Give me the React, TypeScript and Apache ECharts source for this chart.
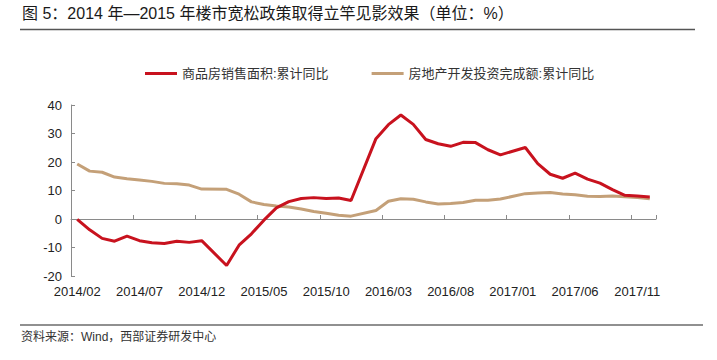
import React, { useEffect, useRef } from "react";
import * as echarts from "echarts";

const categories: string[] = [
  "2014/02", "2014/03", "2014/04", "2014/05", "2014/06", "2014/07", "2014/08", "2014/09", "2014/10", "2014/11", "2014/12",
  "2015/01", "2015/02", "2015/03", "2015/04", "2015/05", "2015/06", "2015/07", "2015/08", "2015/09", "2015/10", "2015/11", "2015/12",
  "2016/01", "2016/02", "2016/03", "2016/04", "2016/05", "2016/06", "2016/07", "2016/08", "2016/09", "2016/10", "2016/11", "2016/12",
  "2017/01", "2017/02", "2017/03", "2017/04", "2017/05", "2017/06", "2017/07", "2017/08", "2017/09", "2017/10", "2017/11", "2017/12",
];

const salesArea: (number | null)[] = [
  -0.1, -3.8, -6.8, -7.8, -6.0, -7.6, -8.3, -8.6, -7.8, -8.2, -7.6,
  null, -16.3, -9.2, -5.2, -0.4, 3.9, 6.1, 7.2, 7.5, 7.2, 7.4, 6.5,
  null, 28.2, 33.1, 36.5, 33.2, 27.9, 26.4, 25.5, 26.9, 26.8, 24.3, 22.5,
  null, 25.1, 19.4, 15.7, 14.3, 16.1, 14.0, 12.6, 10.3, 8.3, 8.1, 7.7,
];

const investment: (number | null)[] = [
  19.3, 16.8, 16.4, 14.7, 14.1, 13.7, 13.2, 12.5, 12.4, 11.9, 10.5,
  null, 10.4, 8.7, 6.0, 5.1, 4.6, 4.2, 3.5, 2.6, 2.0, 1.3, 1.0,
  null, 3.0, 6.2, 7.1, 6.9, 6.0, 5.3, 5.4, 5.8, 6.6, 6.6, 7.0,
  null, 8.9, 9.1, 9.3, 8.8, 8.5, 8.0, 7.9, 8.1, 7.8, 7.5, 7.1,
];

const seriesNames: string[] = ["商品房销售面积:累计同比", "房地产开发投资完成额:累计同比"];
const titleText = "图 5：2014 年—2015 年楼市宽松政策取得立竿见影效果（单位：%）";
const sourceText = "资料来源：Wind，西部证券研发中心";

const FONT = "'Liberation Sans', 'Noto Sans CJK SC', sans-serif";

export default function App() {
  const ref = useRef<HTMLDivElement>(null);
  useEffect(() => {
    if (!ref.current) return;
    const chart = echarts.init(ref.current, null, { renderer: "svg" });
    chart.setOption({
      animation: false,
      backgroundColor: "#ffffff",
      textStyle: { fontFamily: FONT },
      grid: { left: 71, right: 61, top: 105, bottom: 84, containLabel: false },
      legend: {
        left: 140,
        top: 62,
        itemWidth: 32,
        itemHeight: 3,
        itemGap: 43,
        icon: "rect",
        textStyle: { fontSize: 13, color: "#333", fontFamily: FONT },
        data: seriesNames,
      },
      xAxis: {
        type: "category",
        data: categories,
        boundaryGap: true,
        axisLine: { onZero: true, lineStyle: { color: "#8a8a8a", width: 1 } },
        axisTick: { show: true, inside: true, length: 4, interval: 4, lineStyle: { color: "#8a8a8a" } },
        axisLabel: { interval: 4, margin: 9, fontSize: 13, color: "#222", fontFamily: FONT },
        splitLine: { show: false },
      },
      yAxis: {
        type: "value",
        min: -20,
        max: 40,
        interval: 10,
        axisLine: { show: true, lineStyle: { color: "#8a8a8a", width: 1 } },
        axisTick: { show: true, inside: true, length: 4, lineStyle: { color: "#8a8a8a" } },
        axisLabel: { fontSize: 13, color: "#222", margin: 9, fontFamily: FONT },
        splitLine: { show: false },
      },
      series: [
        {
          name: seriesNames[0],
          type: "line",
          data: salesArea,
          symbol: "none",
          connectNulls: true,
          lineStyle: { color: "#C8121E", width: 3 },
          itemStyle: { color: "#C8121E" },
          z: 3,
        },
        {
          name: seriesNames[1],
          type: "line",
          data: investment,
          symbol: "none",
          connectNulls: true,
          lineStyle: { color: "#C4A078", width: 3 },
          itemStyle: { color: "#C4A078" },
          z: 2,
        },
      ],
      graphic: [
        {
          type: "text",
          left: 22,
          top: 5,
          style: { text: titleText, fontSize: 16, fill: "#1a1a1a", fontFamily: FONT },
        },
        {
          type: "line",
          shape: { x1: 20, y1: 29.5, x2: 695, y2: 29.5 },
          style: { stroke: "#555", lineWidth: 1.5 },
        },
        {
          type: "line",
          shape: { x1: 20, y1: 325, x2: 703, y2: 325 },
          style: { stroke: "#222", lineWidth: 1.2 },
        },
        {
          type: "text",
          left: 21,
          top: 331,
          style: { text: sourceText, fontSize: 12, fill: "#333", fontFamily: FONT },
        },
      ],
    });
    return () => chart.dispose();
  }, []);
  return (
    <div
      ref={ref}
      style={{ position: "fixed", left: 0, top: 0, width: 717, height: 360 }}
    />
  );
}
